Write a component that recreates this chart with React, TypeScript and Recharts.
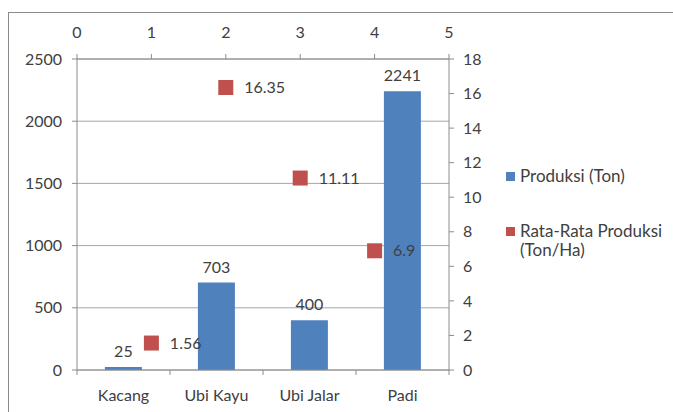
import {
  ComposedChart,
  Bar,
  Scatter,
  XAxis,
  YAxis,
  ZAxis,
  CartesianGrid,
  LabelList,
} from "recharts";

const categories = ["Kacang", "Ubi Kayu", "Ubi Jalar", "Padi"];
const produksi = [25, 703, 400, 2241];
const rataX = [1, 2, 3, 4];
const rataRata = [1.56, 16.35, 11.11, 6.9];
const leftTicks = [0, 500, 1000, 1500, 2000, 2500];
const rightTicks = [0, 2, 4, 6, 8, 10, 12, 14, 16, 18];
const topTicks = [0, 1, 2, 3, 4, 5];

const barData = categories.map((name, i) => ({ name, produksi: produksi[i] }));
const scatterData = rataX.map((x, i) => ({ x, y: rataRata[i] }));

const font = "Lato, 'Open Sans', sans-serif";
const textColor = "#404040";
const axisColor = "#8c8c8c";
const tickStyle = { fill: textColor, fontSize: 16, fontFamily: font };
const catMargin = 20;

// category label plus the Excel-style tick marks on the band edges
function CategoryTick(props: any) {
  const { x, y, payload, index, visibleTicksCount } = props;
  const half = payload.offset || 0;
  const axisY = y - catMargin;
  const last = index === visibleTicksCount - 1;
  return (
    <g>
      <line x1={x - half} x2={x - half} y1={axisY} y2={axisY + 5} stroke={axisColor} />
      {last && <line x1={x + half} x2={x + half} y1={axisY} y2={axisY + 5} stroke={axisColor} />}
      <text x={x} y={y} dy="0.71em" textAnchor="middle" fill={textColor} fontSize={16} fontFamily={font}>
        {payload.value}
      </text>
    </g>
  );
}

export default function App() {
  return (
    <div style={{ position: "absolute", left: 0, top: 0, width: 673, height: 412, overflow: "hidden", background: "#fff" }}>
      <div
        style={{
          position: "absolute",
          left: 8,
          top: 12,
          width: 665,
          height: 400,
          borderLeft: "1px solid #8a8a8a",
          borderTop: "1px solid #8a8a8a",
        }}
      />
      <div style={{ position: "absolute", left: 0, top: 0 }}>
        <ComposedChart
          width={673}
          height={412}
          data={barData}
          margin={{ top: 29, right: 184, bottom: 11, left: 17 }}
          barCategoryGap="30%"
        >
          <CartesianGrid yAxisId="left" xAxisId="cat" vertical={false} stroke="#a6a6a6" />
          <XAxis
            xAxisId="cat"
            dataKey="name"
            height={31}
            stroke={axisColor}
            tickLine={false}
            tickSize={0}
            tickMargin={catMargin}
            tick={<CategoryTick />}
            interval={0}
          />
          <XAxis
            xAxisId="top"
            type="number"
            dataKey="x"
            orientation="top"
            domain={[0, 5]}
            ticks={topTicks}
            height={30}
            tickSize={5}
            tickMargin={16}
            stroke={axisColor}
            tick={tickStyle}
          />
          <YAxis
            yAxisId="left"
            domain={[0, 2500]}
            ticks={leftTicks}
            width={60}
            tickSize={5}
            tickMargin={10}
            stroke={axisColor}
            tick={tickStyle}
          />
          <YAxis
            yAxisId="right"
            orientation="right"
            dataKey="y"
            type="number"
            domain={[0, 18]}
            ticks={rightTicks}
            width={40}
            tickSize={5}
            tickMargin={9}
            stroke={axisColor}
            tick={tickStyle}
          />
          <ZAxis range={[225, 225]} />
          <Bar
            dataKey="produksi"
            xAxisId="cat"
            yAxisId="left"
            fill="#4F81BD"
            isAnimationActive={false}
          >
            <LabelList
              dataKey="produksi"
              position="top"
              offset={10}
              fill={textColor}
              fontSize={16}
              fontFamily={font}
            />
          </Bar>
          <Scatter
            data={scatterData}
            xAxisId="top"
            yAxisId="right"
            fill="#C0504D"
            shape="square"
            isAnimationActive={false}
          >
            <LabelList
              dataKey="y"
              position="right"
              offset={10}
              fill={textColor}
              fontSize={16}
              fontFamily={font}
            />
          </Scatter>
        </ComposedChart>
      </div>
      <div
        style={{
          position: "absolute",
          left: 506,
          top: 166,
          fontFamily: font,
          fontSize: 17,
          color: textColor,
          lineHeight: "19px",
        }}
      >
        <div style={{ display: "flex", alignItems: "flex-start" }}>
          <span style={{ width: 9, height: 9, background: "#4F81BD", marginTop: 6, marginRight: 5, flex: "none" }} />
          <span>Produksi (Ton)</span>
        </div>
        <div style={{ display: "flex", alignItems: "flex-start", marginTop: 36 }}>
          <span style={{ width: 9, height: 9, background: "#C0504D", marginTop: 6, marginRight: 5, flex: "none" }} />
          <span>
            Rata-Rata Produksi
            <br />
            (Ton/Ha)
          </span>
        </div>
      </div>
    </div>
  );
}
